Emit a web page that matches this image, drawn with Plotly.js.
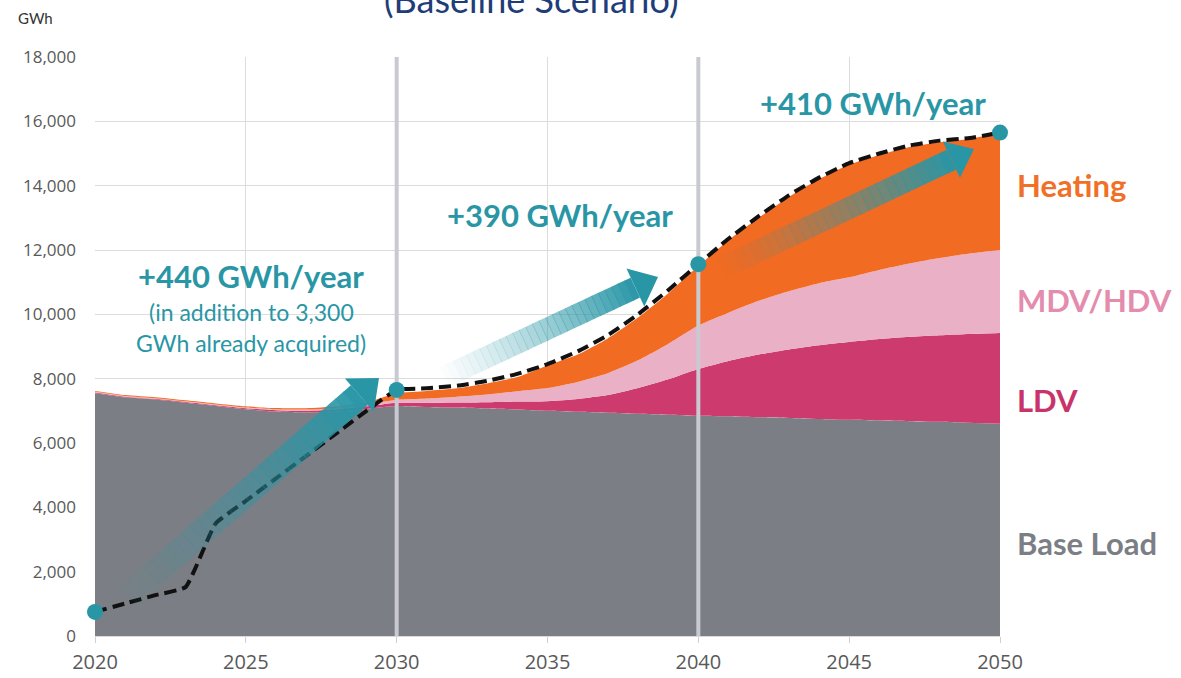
<!DOCTYPE html>
<html>
<head>
<meta charset="utf-8">
<script src="https://cdn.plot.ly/plotly-3.0.1.min.js"></script>
<style>
html,body{margin:0;padding:0;background:#fff;}
#chart{width:1181px;height:678px;}
</style>
</head>
<body>
<div id="chart"></div>
<script>
// ---- data (GWh) ----
const years = [2020,2021,2022,2023,2024,2025,2026,2027,2028,2029,2030,2031,2032,2033,2034,2035,2036,2037,2038,2039,2040,2041,2042,2043,2044,2045,2046,2047,2048,2049,2050];
const baseLoad = [7550,7420,7350,7250,7150,7050,6980,6950,6980,7060,7150,7120,7100,7070,7040,7000,6970,6940,6910,6880,6850,6830,6800,6780,6750,6720,6700,6680,6660,6630,6600];
const ldv = [20,20,22,24,26,30,40,50,60,80,100,130,160,200,250,300,400,550,800,1100,1450,1720,1950,2130,2290,2420,2530,2620,2690,2760,2820];
const mdvHdv = [20,20,20,22,24,25,30,40,50,70,90,130,180,240,320,410,530,680,860,1100,1350,1500,1670,1810,1930,2010,2150,2280,2400,2500,2580];
const heating = [30,30,30,30,30,35,35,40,50,60,210,240,260,340,440,700,850,1080,1330,1570,1850,2250,2580,2930,3230,3500,3570,3620,3600,3560,3650];
const acquired = [750,1010,1270,1520,3500,4200,4900,5600,6300,7000,7650,7700,7780,7930,8150,8450,8850,9350,10000,10750,11560,12350,13050,13700,14250,14700,15000,15250,15400,15480,15650];
const milestoneYears = [2020,2030,2040,2050];
const milestoneValues = [750,7650,11560,15650];
const seriesNames = ["Base Load","LDV","MDV/HDV","Heating"];
const xTicks = [2020,2025,2030,2035,2040,2045,2050];

// ---- style ----
const colors = {base:"#7b7f85", ldv:"#cc3a6e", mdv:"#e9b0c6", heat:"#f26b22", teal:"#2996a6"};
const W = 1181, H = 678;
const M = {l:95, r:181, t:57, b:42};
const PW = W - M.l - M.r, PH = H - M.t - M.b;
const px = x => (x - M.l) / PW;
const py = y => (H - M.b - y) / PH;

function area(name, y, color){
  return {x: years, y: y, name: name, type:"scatter", mode:"lines", stackgroup:"one",
          line:{width:0, shape:"spline", smoothing:0.6, color:color}, fillcolor:color, hoverinfo:"skip"};
}
const traces = [
  area(seriesNames[0], baseLoad, colors.base),
  area(seriesNames[1], ldv, colors.ldv),
  area(seriesNames[2], mdvHdv, colors.mdv),
  area(seriesNames[3], heating, colors.heat),
  {x:[2030,2030], y:[0,18000], type:"scatter", mode:"lines", line:{color:"#c9cad1", width:4}, hoverinfo:"skip"},
  {x:[2040,2040], y:[0,18000], type:"scatter", mode:"lines", line:{color:"#c9cad1", width:4}, hoverinfo:"skip"},
  {x: years, y: acquired, type:"scatter", mode:"lines", line:{color:"#111", width:4, dash:"12px,6px", shape:"spline", smoothing:0.4}, hoverinfo:"skip"},
  {x: milestoneYears, y: milestoneValues, type:"scatter", mode:"markers", cliponaxis:false, marker:{color:colors.teal, size:16}, hoverinfo:"skip"}
];

// gradient arrow built from pixel-geometry pieces
function arrow(tail, tip, bw, hw, hl, a0, n){
  const dx = tip[0]-tail[0], dy = tip[1]-tail[1];
  const L = Math.hypot(dx,dy), ux = dx/L, uy = dy/L, pxn = -uy, pyn = ux;
  const bodyL = L - hl;
  const out = [];
  const pt = (x,y) => px(x).toFixed(5)+","+py(y).toFixed(5);
  for(let i=0;i<n;i++){
    const t0 = bodyL*i/n, t1 = bodyL*(i+1)/n + (i<n-1?0.6:0);
    const c0x = tail[0]+ux*t0, c0y = tail[1]+uy*t0, c1x = tail[0]+ux*t1, c1y = tail[1]+uy*t1;
    const h = bw/2;
    const path = "M"+pt(c0x+pxn*h,c0y+pyn*h)+" L"+pt(c1x+pxn*h,c1y+pyn*h)+" L"+pt(c1x-pxn*h,c1y-pyn*h)+" L"+pt(c0x-pxn*h,c0y-pyn*h)+" Z";
    const f = (i+0.5)/n;
    const a = a0 + (1-a0)*Math.pow(f,1.3);
    out.push({type:"path", xref:"paper", yref:"paper", path:path, fillcolor:"rgba(41,150,166,"+a.toFixed(3)+")", line:{width:0}, layer:"above"});
  }
  const bx = tail[0]+ux*bodyL, by = tail[1]+uy*bodyL, h2 = hw/2;
  const head = "M"+pt(bx+pxn*h2,by+pyn*h2)+" L"+pt(tip[0],tip[1])+" L"+pt(bx-pxn*h2,by-pyn*h2)+" Z";
  out.push({type:"path", xref:"paper", yref:"paper", path:head, fillcolor:"rgba(41,150,166,1)", line:{width:0}, layer:"above"});
  return out;
}
const shapes = [].concat(
  arrow([128,596],[379,378],26,44,26,0.05,30),
  arrow([438,380],[658,277],22,42,25,0.0,30),
  arrow([714,272],[974,149],22,40,25,0.0,30)
);

function ann(text, x, y, size, color, bold, anchor){
  return {text: bold ? "<b>"+text+"</b>" : text, xref:"paper", yref:"paper", x:px(x), y:py(y),
          xanchor: anchor||"center", yanchor:"middle", showarrow:false,
          font:{family:"Lato, 'Open Sans', sans-serif", size:size, color:color}};
}
const annotations = [
  ann("(Baseline Scenario)", 531, -1, 36, "#1f3d78", false),
  ann("GWh", 36, 18, 15, "#333333", false),
  ann("+440 GWh/year", 251, 276, 31, colors.teal, true),
  ann("(in addition to 3,300", 251, 312, 23, colors.teal, false),
  ann("GWh already acquired)", 251, 343, 23, colors.teal, false),
  ann("+390 GWh/year", 560, 215, 31, colors.teal, true),
  ann("+410 GWh/year", 873, 103, 31, colors.teal, true),
  ann(seriesNames[3], 1015, 185, 31, "#f07028", true, "left"),
  ann(seriesNames[2], 1015, 300, 31, "#e48cad", true, "left"),
  ann(seriesNames[1], 1015, 400, 31, "#c8336a", true, "left"),
  ann(seriesNames[0], 1015, 543, 31, "#7b7f85", true, "left")
];

const layout = {
  width:W, height:H, margin:{l:M.l, r:M.r, t:M.t, b:M.b, pad:0},
  paper_bgcolor:"#fff", plot_bgcolor:"#fff", showlegend:false,
  xaxis:{range:[2020,2050], tickvals:xTicks, ticktext:xTicks.map(String), showgrid:true, gridcolor:"#dcdcdc", gridwidth:1,
         zeroline:false, showline:true, linecolor:"#d9d9d9", ticks:"outside", ticklen:6, tickcolor:"#d0d0d0",
         ticklabelstandoff:2,
         tickfont:{family:"'Open Sans', sans-serif", size:20, color:"#595959"}, fixedrange:true},
  yaxis:{range:[0,18000], dtick:2000, tickformat:",", showgrid:true, gridcolor:"#dcdcdc", gridwidth:1,
         zeroline:false, showline:false, ticks:"", ticklabelstandoff:18,
         tickfont:{family:"'Open Sans', sans-serif", size:17, color:"#595959"}, fixedrange:true},
  shapes: shapes,
  annotations: annotations
};
Plotly.newPlot("chart", traces, layout, {displayModeBar:false, staticPlot:true});
</script>
</body>
</html>
